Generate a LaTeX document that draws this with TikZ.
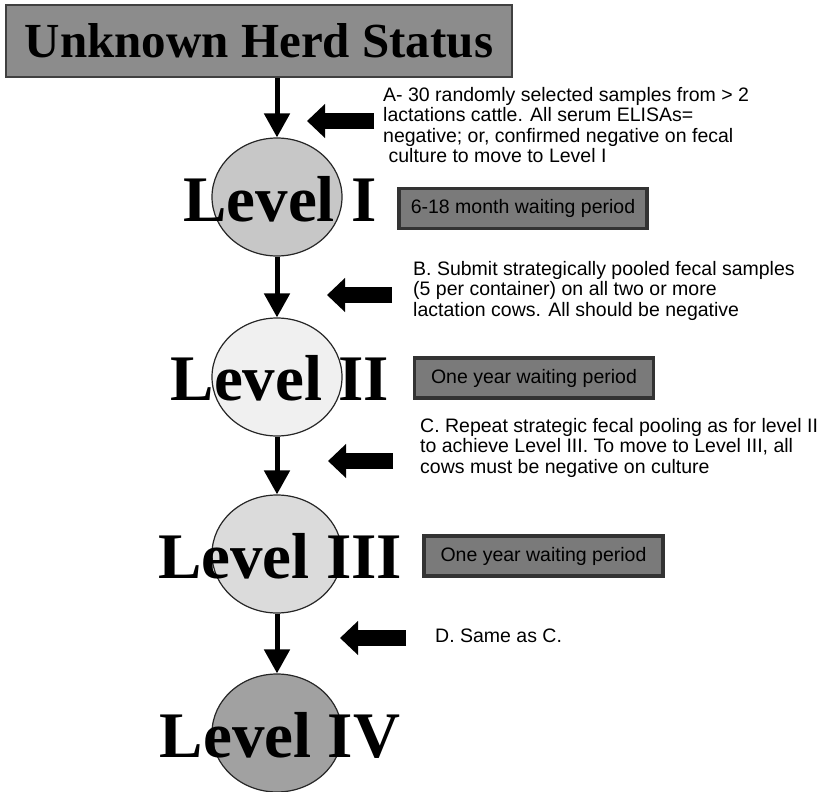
\documentclass[tikz,border=0pt]{standalone}
\usepackage{fontspec}
\setmainfont{Liberation Serif}
\setsansfont{Liberation Sans}
\usetikzlibrary{arrows.meta,shapes.geometric}

\definecolor{titlegray}{gray}{0.55}
\definecolor{boxgray}{gray}{0.48}
\definecolor{levelone}{gray}{0.78}
\definecolor{leveltwo}{gray}{0.94}
\definecolor{levelthree}{gray}{0.86}
\definecolor{levelfour}{gray}{0.63}

\tikzstyle{herdstatus} = [draw=black!75, fill=titlegray, rectangle,
  line width=1.2pt, minimum width=506pt, minimum height=72pt,
  inner sep=0pt, font=\fontsize{49}{54}\selectfont\bfseries]
\tikzstyle{level} = [draw=black!85, ellipse, line width=1.2pt,
  minimum width=130pt, minimum height=118pt, inner sep=0pt]
\tikzstyle{leveltext} = [inner sep=0pt,
  font=\fontsize{65}{70}\selectfont\bfseries]
\tikzstyle{waiting} = [draw=black!80, fill=boxgray, rectangle,
  line width=3.5pt, minimum width=239pt, minimum height=40pt,
  inner xsep=12pt, font=\sffamily\fontsize{19.5}{20.5}\selectfont]
\tikzstyle{rule} = [anchor=north west, align=left, inner sep=0pt,
  font=\sffamily\fontsize{19.5}{20.5}\selectfont]
\tikzstyle{advance} = [-{Triangle[length=24pt,width=25pt]}, line width=5pt]
\tikzstyle{pointer} = [-{Triangle[length=18pt,width=33pt]}, line width=16pt]

\begin{document}
\begin{tikzpicture}[x=1pt,y=-1pt]
        \useasboundingbox (0,0) rectangle (825,792);

        \node [herdstatus] (herd) at (259,41) {Unknown Herd Status};

        \node [level, fill=levelone]   (l1) at (277,197) {};
        \node [level, fill=leveltwo]   (l2) at (277,377) {};
        \node [level, fill=levelthree] (l3) at (277,554) {};
        \node [level, fill=levelfour]  (l4) at (277,733) {};

        \node [leveltext] (l1text) at (280,199.5) {Level I};
        \node [leveltext] (l2text) at (280,378.5) {Level II};
        \node [leveltext] (l3text) at (280,556.5) {Level III};
        \node [leveltext] (l4text) at (280,735.5) {Level IV};

        \node [waiting] (wait1) at (523,208.5) {6-18 month waiting period};
        \node [waiting] (wait2) at (534,378)   {One year waiting period};
        \node [waiting] (wait3) at (543.5,556) {One year waiting period};

        \node [rule] (rulea) at (383,87) {A- 30 randomly selected samples from > 2\\
          lactations cattle. All serum ELISAs=\\
          negative; or, confirmed negative on fecal\\
          ~culture to move to Level I};
        \node [rule] (ruleb) at (413,261) {B. Submit strategically pooled fecal samples\\
          (5 per container) on all two or more\\
          lactation cows. All should be negative};
        \node [rule] (rulec) at (420,418) {C. Repeat strategic fecal pooling as for level II\\
          to achieve Level III. To move to Level III, all\\
          cows must be negative on culture};
        \node [rule, anchor=base west] (ruled) at (435,642) {D. Same as C.};

        \coordinate (tipa)  at (307,121);
        \coordinate (taila) at (374,121);
        \coordinate (tipb)  at (327,295);
        \coordinate (tailb) at (392,295);
        \coordinate (tipc)  at (328,461);
        \coordinate (tailc) at (393,461);
        \coordinate (tipd)  at (340,638);
        \coordinate (taild) at (406,638);

        \draw[advance] (l1.north |- herd.south) -- (l1.north);
        \draw[advance] (l1.south) -- (l2.north);
        \draw[advance] (l2.south) -- (l3.north);
        \draw[advance] (l3.south) -- (l4.north);

        \draw[pointer] (taila) -- (tipa);
        \draw[pointer] (tailb) -- (tipb);
        \draw[pointer] (tailc) -- (tipc);
        \draw[pointer] (taild) -- (tipd);
      \end{tikzpicture}
\end{document}
